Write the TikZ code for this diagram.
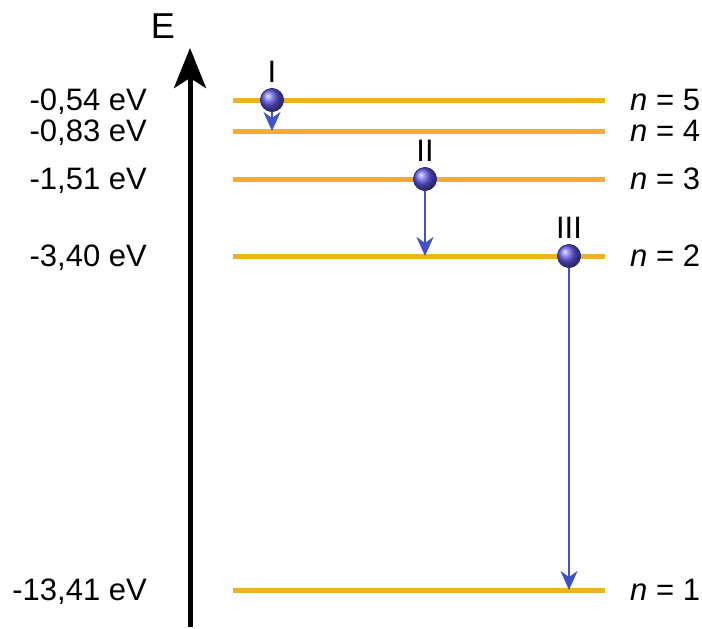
\documentclass[tikz,border=0pt]{standalone}
\usepackage{fontspec}
\setmainfont{Liberation Sans}
\usetikzlibrary{arrows.meta,calc}

\definecolor{levelorange}{RGB}{242,177,37}
\definecolor{jumpblue}{RGB}{66,82,196}
\definecolor{eblue}{RGB}{95,90,230}

\begin{document}
\begin{tikzpicture}[x=1pt,y=-1pt,
  level/.style={draw=levelorange,line width=5pt},
  lab/.style={inner sep=0pt,font=\fontsize{31}{33}\selectfont},
  electron/.style={circle,inner sep=0pt,minimum size=23pt,draw=eblue!50!black,line width=0.6pt,shading=ball,ball color=eblue},
  jump/.style={draw=jumpblue,line width=2.4pt,-{Stealth[length=19pt,width=17pt,inset=6pt]}}]
\useasboundingbox (0,0) rectangle (702,629);

% energy axis
\coordinate (E0) at (190,627);
\coordinate (E1) at (190,48);
\draw[line width=5pt,-{Stealth[length=40pt,width=32pt,inset=10pt]}] (E0) -- (E1);
\node[inner sep=0pt,font=\fontsize{36}{38}\selectfont] (Elab) at (163,26) {E};

% levels
\foreach \n/\y/\e in {5/100/{-0,54 eV},4/131/{-0,83 eV},3/179/{-1,51 eV},2/256/{-3,40 eV},1/590/{-13,41 eV}}{
  \coordinate (a\n) at (233,\y);
  \coordinate (b\n) at (605,\y);
  \draw[level] (a\n) -- (b\n);
  \node[lab,anchor=base east] (e\n) at (147,\y+10) {\e};
  \node[lab,anchor=base west] (n\n) at (630,\y+10) {\textit{n} = \n};
}

% electrons
\node[electron] (el1) at (272,100) {};
\node[electron] (el2) at (425,179) {};
\node[electron] (el3) at (569,256) {};
\node[lab] (t1) at (272,72) {I};
\node[lab] (t2) at (425,151) {II};
\node[lab] (t3) at (569,228) {III};

% transitions
\draw[jump] (el1) -- (el1 |- a4);
\draw[jump] (el2) -- (el2 |- a2);
\draw[jump] (el3) -- (el3 |- a1);
\node[electron] at (el1) {};
\node[electron] at (el2) {};
\node[electron] at (el3) {};
\end{tikzpicture}
\end{document}
